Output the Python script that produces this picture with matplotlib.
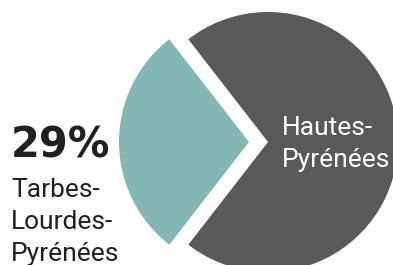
import matplotlib.pyplot as plt

# shares of the two areas
labels = ['Tarbes-Lourdes-Pyrénées', 'Hautes-Pyrénées']
shares = [29, 71]
colors = ['#83b7b6', '#595959']

big_label = '29%'
left_lines = ['Tarbes-', 'Lourdes-', 'Pyrénées']
right_lines = ['Hautes-', 'Pyrénées']

narrow = ['Roboto', 'DejaVu Sans']

fig = plt.figure(figsize=(3.93, 2.65), dpi=100)
ax = fig.add_axes([0, 0, 1, 1])

# teal slice pushed out to the left
start = 180 - shares[0] / 100 * 180
ax.pie(shares, colors=colors, startangle=start, counterclock=True,
       center=(268, 123), radius=130, explode=[19, 0], frame=True,
       wedgeprops={'linewidth': 0})
ax.set_xlim(0, 393)
ax.set_ylim(0, 265)
ax.axis('off')

ax.text(11, 265 - 157, big_label, fontsize=30, fontweight='heavy',
        color='#231f20', ha='left', va='baseline')

for i, line in enumerate(left_lines):
    ax.text(11, 265 - (197 + 32 * i), line, fontsize=19, family=narrow,
            color='#231f20', ha='left', va='baseline')

for i, line in enumerate(right_lines):
    ax.text(282, 265 - (135 + 32 * i), line, fontsize=19, family=narrow,
            color='white', ha='left', va='baseline')

fig.savefig('out.png', dpi=100)
